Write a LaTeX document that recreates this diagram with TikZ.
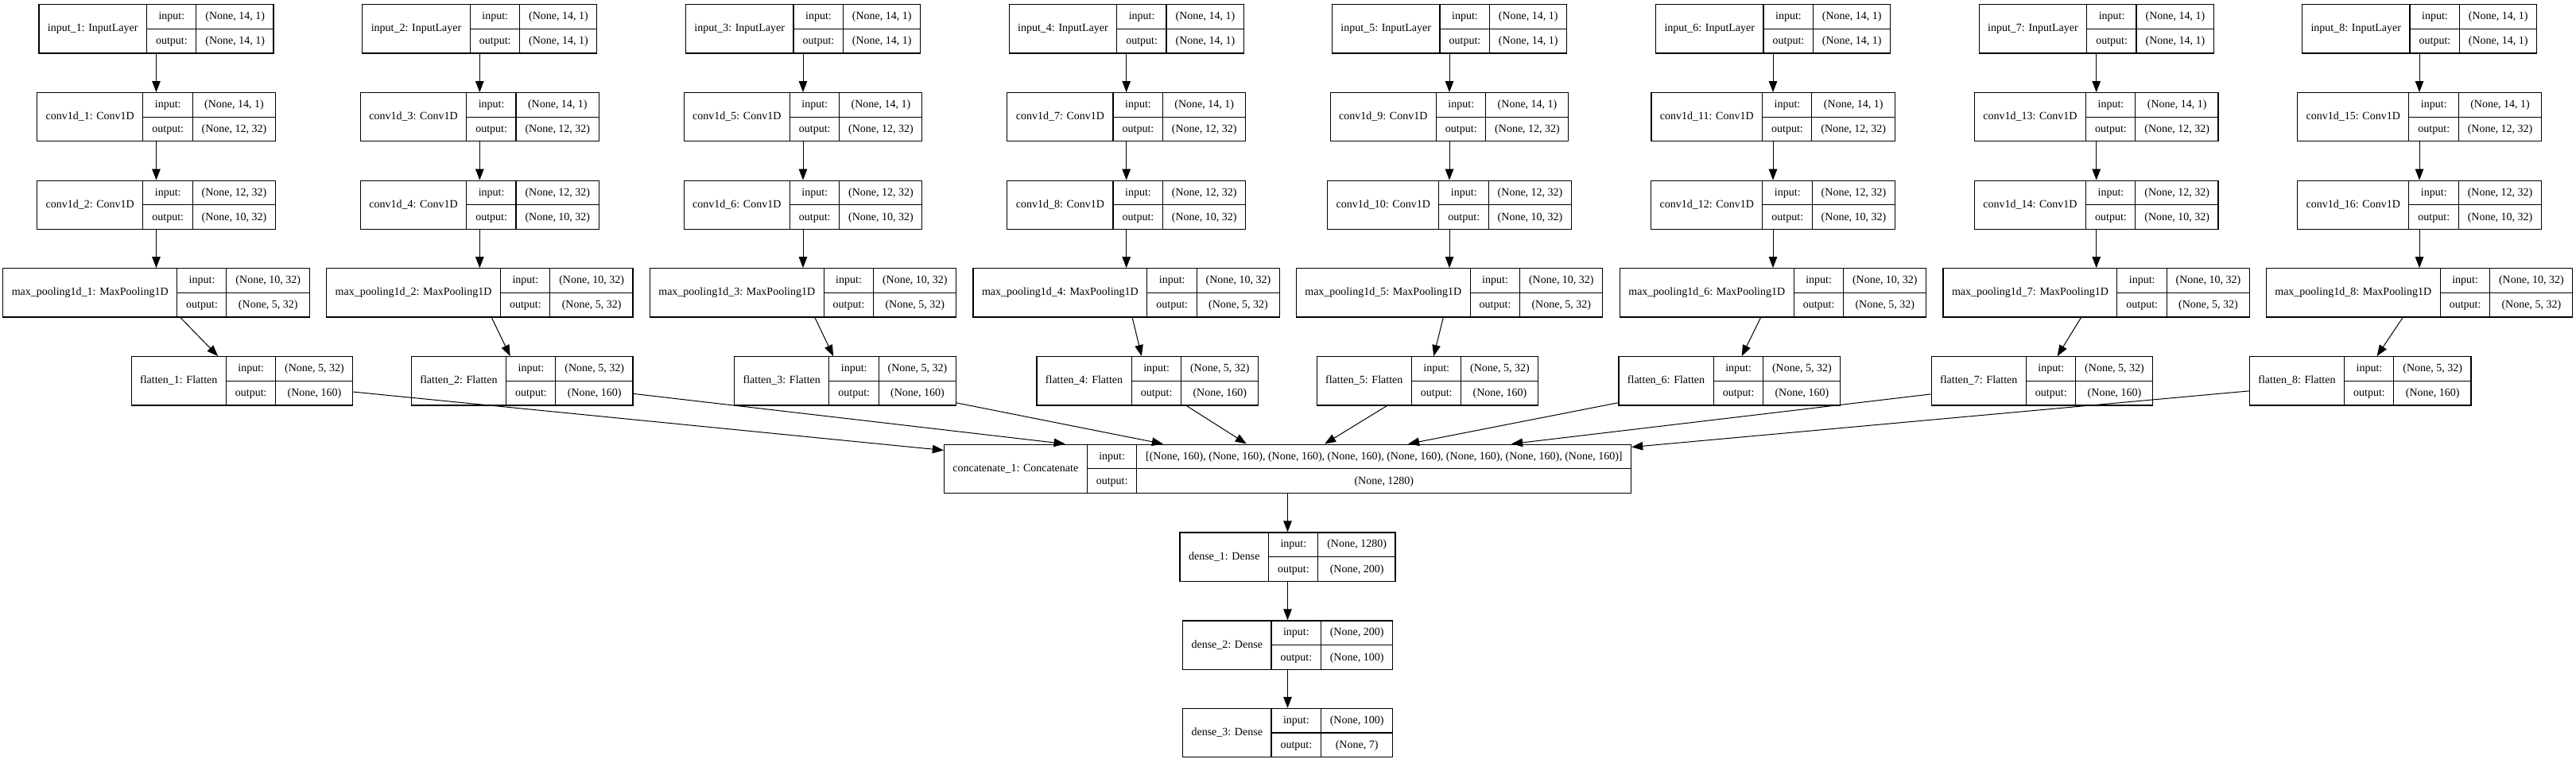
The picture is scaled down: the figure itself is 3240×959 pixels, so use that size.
\documentclass[tikz,border=0pt]{standalone}
\usepackage{fontspec}
\setmainfont{Liberation Serif}
\usepackage{tikz}
\usetikzlibrary{arrows.meta}

\setlength{\arrayrulewidth}{1.2pt}
\newcommand{\rs}{\rule[-11pt]{0pt}{30pt}}
\newcommand{\rec}[3]{%
	\def\arraystretch{0.5}%
	\begin{tabular}{@{\hspace{11pt}}c@{\hspace{11pt}}|@{}c@{}}
		#1 &
		\begin{tabular}{@{\hspace{11pt}}c@{\hspace{11pt}}|@{\hspace{11pt}}c@{\hspace{11pt}}}
			input:\rs & #2 \\ \hline
			output:\rs & #3
		\end{tabular}
	\end{tabular}}

\tikzset{layer/.style={draw, line width=1.2pt, inner sep=0pt, fill=white,
		font=\fontsize{14}{17}\selectfont}}

\begin{document}
\begin{tikzpicture}[x=1pt, y=-1pt]
		\useasboundingbox (0,0) rectangle (3240,959);

		\begin{scope}[every node/.style={layer}]
			% inputs
			\node (inp1) at (196.5,36.3) {\rec{input\_1: InputLayer}{(None, 14, 1)}{(None, 14, 1)}};
			\node (inp2) at (603.3,36.3) {\rec{input\_2: InputLayer}{(None, 14, 1)}{(None, 14, 1)}};
			\node (inp3) at (1010,36.3) {\rec{input\_3: InputLayer}{(None, 14, 1)}{(None, 14, 1)}};
			\node (inp4) at (1416.7,36.3) {\rec{input\_4: InputLayer}{(None, 14, 1)}{(None, 14, 1)}};
			\node (inp5) at (1823,36.3) {\rec{input\_5: InputLayer}{(None, 14, 1)}{(None, 14, 1)}};
			\node (inp6) at (2230,36.3) {\rec{input\_6: InputLayer}{(None, 14, 1)}{(None, 14, 1)}};
			\node (inp7) at (2636.7,36.3) {\rec{input\_7: InputLayer}{(None, 14, 1)}{(None, 14, 1)}};
			\node (inp8) at (3043,36.3) {\rec{input\_8: InputLayer}{(None, 14, 1)}{(None, 14, 1)}};

			% first conv
			\node (conv1) at (196.5,147.2) {\rec{conv1d\_1: Conv1D}{(None, 14, 1)}{(None, 12, 32)}};
			\node (conv3) at (603.3,147.2) {\rec{conv1d\_3: Conv1D}{(None, 14, 1)}{(None, 12, 32)}};
			\node (conv5) at (1010,147.2) {\rec{conv1d\_5: Conv1D}{(None, 14, 1)}{(None, 12, 32)}};
			\node (conv7) at (1416.7,147.2) {\rec{conv1d\_7: Conv1D}{(None, 14, 1)}{(None, 12, 32)}};
			\node (conv9) at (1823,147.2) {\rec{conv1d\_9: Conv1D}{(None, 14, 1)}{(None, 12, 32)}};
			\node (conv11) at (2230,147.2) {\rec{conv1d\_11: Conv1D}{(None, 14, 1)}{(None, 12, 32)}};
			\node (conv13) at (2636.7,147.2) {\rec{conv1d\_13: Conv1D}{(None, 14, 1)}{(None, 12, 32)}};
			\node (conv15) at (3043,147.2) {\rec{conv1d\_15: Conv1D}{(None, 14, 1)}{(None, 12, 32)}};

			% second conv
			\node (conv2) at (196.5,257.8) {\rec{conv1d\_2: Conv1D}{(None, 12, 32)}{(None, 10, 32)}};
			\node (conv4) at (603.3,257.8) {\rec{conv1d\_4: Conv1D}{(None, 12, 32)}{(None, 10, 32)}};
			\node (conv6) at (1010,257.8) {\rec{conv1d\_6: Conv1D}{(None, 12, 32)}{(None, 10, 32)}};
			\node (conv8) at (1416.7,257.8) {\rec{conv1d\_8: Conv1D}{(None, 12, 32)}{(None, 10, 32)}};
			\node (conv10) at (1823,257.8) {\rec{conv1d\_10: Conv1D}{(None, 12, 32)}{(None, 10, 32)}};
			\node (conv12) at (2230,257.8) {\rec{conv1d\_12: Conv1D}{(None, 12, 32)}{(None, 10, 32)}};
			\node (conv14) at (2636.7,257.8) {\rec{conv1d\_14: Conv1D}{(None, 12, 32)}{(None, 10, 32)}};
			\node (conv16) at (3043,257.8) {\rec{conv1d\_16: Conv1D}{(None, 12, 32)}{(None, 10, 32)}};

			% pooling
			\node (pool1) at (196.5,368.3) {\rec{max\_pooling1d\_1: MaxPooling1D}{(None, 10, 32)}{(None, 5, 32)}};
			\node (pool2) at (603.3,368.3) {\rec{max\_pooling1d\_2: MaxPooling1D}{(None, 10, 32)}{(None, 5, 32)}};
			\node (pool3) at (1010,368.3) {\rec{max\_pooling1d\_3: MaxPooling1D}{(None, 10, 32)}{(None, 5, 32)}};
			\node (pool4) at (1416.7,368.3) {\rec{max\_pooling1d\_4: MaxPooling1D}{(None, 10, 32)}{(None, 5, 32)}};
			\node (pool5) at (1823,368.3) {\rec{max\_pooling1d\_5: MaxPooling1D}{(None, 10, 32)}{(None, 5, 32)}};
			\node (pool6) at (2230,368.3) {\rec{max\_pooling1d\_6: MaxPooling1D}{(None, 10, 32)}{(None, 5, 32)}};
			\node (pool7) at (2636.7,368.3) {\rec{max\_pooling1d\_7: MaxPooling1D}{(None, 10, 32)}{(None, 5, 32)}};
			\node (pool8) at (3043,368.3) {\rec{max\_pooling1d\_8: MaxPooling1D}{(None, 10, 32)}{(None, 5, 32)}};

			% flatten
			\node (flat1) at (304.5,479.3) {\rec{flatten\_1: Flatten}{(None, 5, 32)}{(None, 160)}};
			\node (flat2) at (656.7,479.3) {\rec{flatten\_2: Flatten}{(None, 5, 32)}{(None, 160)}};
			\node (flat3) at (1063,479.3) {\rec{flatten\_3: Flatten}{(None, 5, 32)}{(None, 160)}};
			\node (flat4) at (1443.3,479.3) {\rec{flatten\_4: Flatten}{(None, 5, 32)}{(None, 160)}};
			\node (flat5) at (1795.5,479.3) {\rec{flatten\_5: Flatten}{(None, 5, 32)}{(None, 160)}};
			\node (flat6) at (2175.3,479.3) {\rec{flatten\_6: Flatten}{(None, 5, 32)}{(None, 160)}};
			\node (flat7) at (2568.5,479.3) {\rec{flatten\_7: Flatten}{(None, 5, 32)}{(None, 160)}};
			\node (flat8) at (2968.7,479.3) {\rec{flatten\_8: Flatten}{(None, 5, 32)}{(None, 160)}};

			% head
			\node (cat) at (1619.5,589.7) {\rec{concatenate\_1: Concatenate}{[(None, 160), (None, 160), (None, 160), (None, 160), (None, 160), (None, 160), (None, 160), (None, 160)]}{(None, 1280)}};
			\node (dense1) at (1619.5,700.5) {\rec{dense\_1: Dense}{(None, 1280)}{(None, 200)}};
			\node (dense2) at (1619.5,811.5) {\rec{dense\_2: Dense}{(None, 200)}{(None, 100)}};
			\node (dense3) at (1619.5,922) {\rec{dense\_3: Dense}{(None, 100)}{(None, 7)}};
		\end{scope}

		% where the flatten arrows land on the concatenate box
		\coordinate (t1) at ([yshift=-8pt]cat.north west);
		\coordinate (t2) at ([xshift=152.7pt]cat.north west);
		\coordinate (t3) at ([xshift=276pt]cat.north west);
		\coordinate (t4) at ([xshift=381pt]cat.north west);
		\coordinate (t5) at ([xshift=479.3pt]cat.north west);
		\coordinate (t6) at ([xshift=584.3pt]cat.north west);
		\coordinate (t7) at ([xshift=714.3pt]cat.north west);
		\coordinate (t8) at ([yshift=-4pt]cat.north east);

		\begin{scope}[>={Triangle[length=14pt,width=10.5pt]},
			every edge/.style={draw, ->, line width=1pt}]
			\path (inp1) edge (conv1);
			\path (conv1) edge (conv2);
			\path (conv2) edge (pool1);
			\path (pool1) edge (flat1);
			\path (inp2) edge (conv3);
			\path (conv3) edge (conv4);
			\path (conv4) edge (pool2);
			\path (pool2) edge (flat2);
			\path (inp3) edge (conv5);
			\path (conv5) edge (conv6);
			\path (conv6) edge (pool3);
			\path (pool3) edge (flat3);
			\path (inp4) edge (conv7);
			\path (conv7) edge (conv8);
			\path (conv8) edge (pool4);
			\path (pool4) edge (flat4);
			\path (inp5) edge (conv9);
			\path (conv9) edge (conv10);
			\path (conv10) edge (pool5);
			\path (pool5) edge (flat5);
			\path (inp6) edge (conv11);
			\path (conv11) edge (conv12);
			\path (conv12) edge (pool6);
			\path (pool6) edge (flat6);
			\path (inp7) edge (conv13);
			\path (conv13) edge (conv14);
			\path (conv14) edge (pool7);
			\path (pool7) edge (flat7);
			\path (inp8) edge (conv15);
			\path (conv15) edge (conv16);
			\path (conv16) edge (pool8);
			\path (pool8) edge (flat8);
			\path (flat1) edge (t1);
			\path (flat2) edge (t2);
			\path (flat3) edge (t3);
			\path (flat4) edge (t4);
			\path (flat5) edge (t5);
			\path (flat6) edge (t6);
			\path (flat7) edge (t7);
			\path (flat8) edge (t8);
			\path (cat) edge (dense1);
			\path (dense1) edge (dense2);
			\path (dense2) edge (dense3);
		\end{scope}
	\end{tikzpicture}
\end{document}
